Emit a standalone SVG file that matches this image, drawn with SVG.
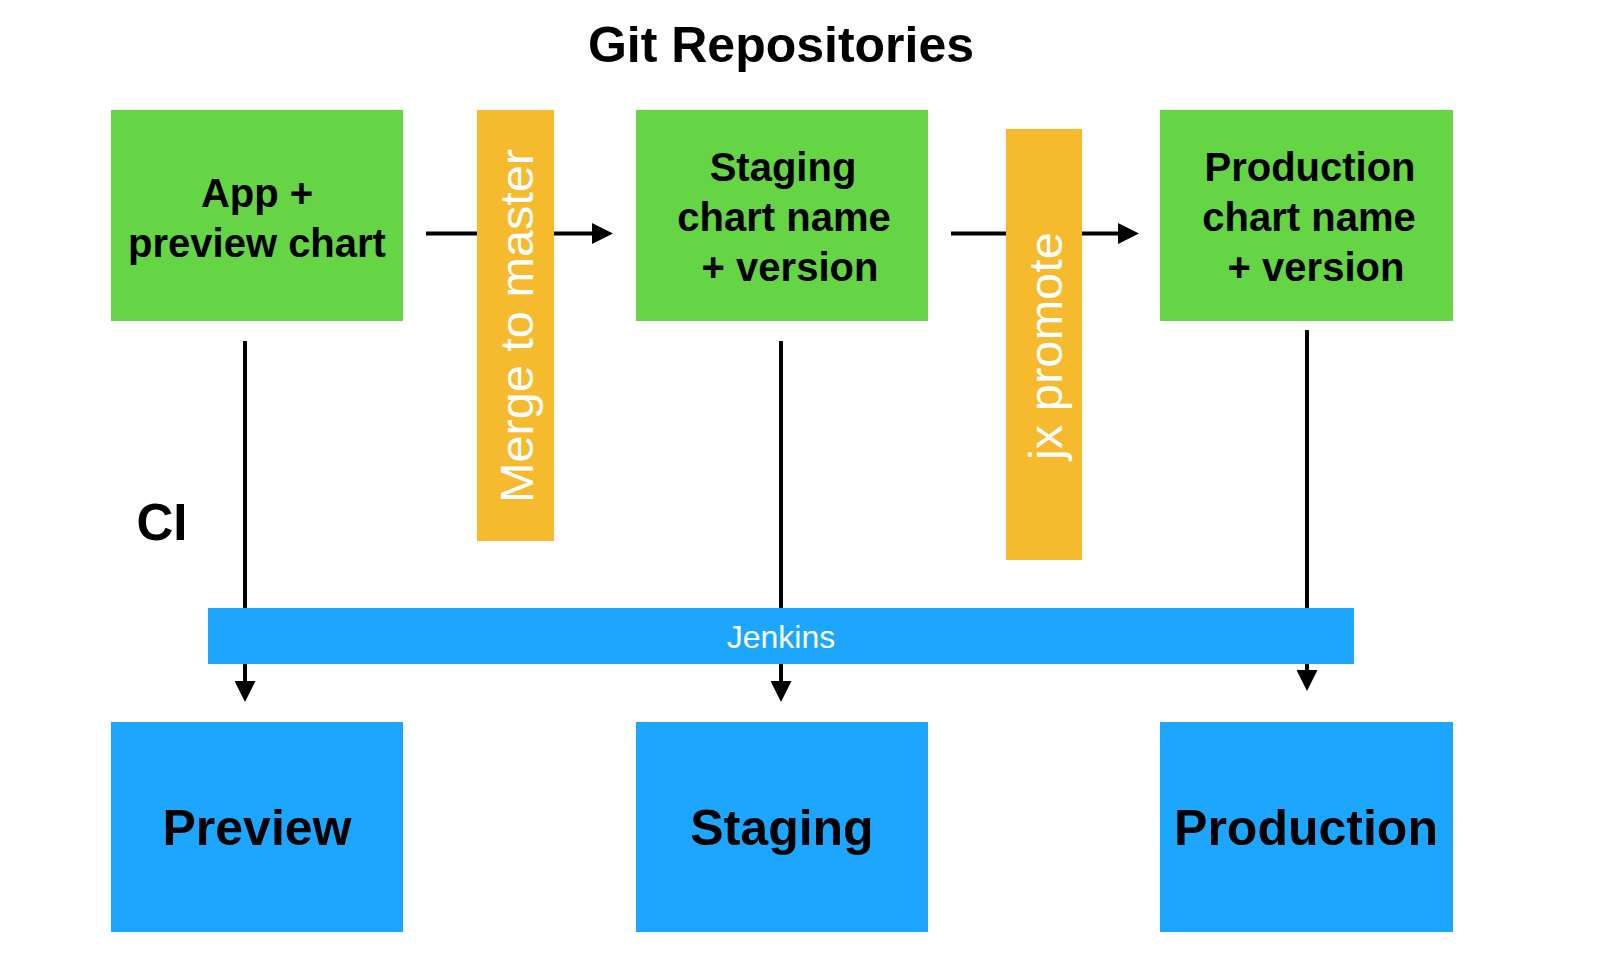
<svg xmlns="http://www.w3.org/2000/svg" width="1610" height="970" viewBox="0 0 1610 970">
<defs>
<style>
.bg{fill:#ffffff}
.green{fill:#65D545}
.blue{fill:#1DA6FE}
.orange{fill:#F6BA2E}
.lbl{font-family:"Liberation Sans",Arial,Helvetica,sans-serif;font-weight:bold;fill:#000;text-anchor:middle}
.box{font-size:40px}
.big{font-size:50px}
.vert{font-family:"Liberation Sans",Arial,Helvetica,sans-serif;font-size:46px;fill:#fff;text-anchor:middle}
.jenk{font-family:"Liberation Sans",Arial,Helvetica,sans-serif;font-size:32px;fill:#fff;text-anchor:middle}
.conn{stroke:#000;stroke-width:4;fill:none}
</style>
<marker id="ah" markerUnits="userSpaceOnUse" markerWidth="21" markerHeight="21" refX="0" refY="10.5" orient="auto" viewBox="0 0 21 21">
<path d="M0,0 L21,10.5 L0,21 Z" fill="#000"/>
</marker>
</defs>
<rect class="bg" x="0" y="0" width="1610" height="970"/>
<g id="title">
<text class="lbl big" x="781" y="62">Git Repositories</text>
</g>
<g id="ci-label">
<text class="lbl" x="162" y="540" style="font-size:51px">CI</text>
</g>
<g id="app-repo">
<rect class="green" x="111" y="110" width="292" height="211"/>
<text class="lbl box" x="257" y="207">App +</text>
<text class="lbl box" x="257" y="257">preview chart</text>
</g>
<g id="staging-repo">
<rect class="green" x="636" y="110" width="292" height="211"/>
<text class="lbl box" x="783" y="181">Staging</text>
<text class="lbl box" x="784" y="231">chart name</text>
<text class="lbl box" x="790" y="281">+ version</text>
</g>
<g id="production-repo">
<rect class="green" x="1160" y="110" width="293" height="211"/>
<text class="lbl box" x="1310" y="181">Production</text>
<text class="lbl box" x="1309" y="231">chart name</text>
<text class="lbl box" x="1316" y="281">+ version</text>
</g>
<g id="preview-env">
<rect class="blue" x="111" y="722" width="292" height="210"/>
<text class="lbl big" x="257" y="845">Preview</text>
</g>
<g id="staging-env">
<rect class="blue" x="636" y="722" width="292" height="210"/>
<text class="lbl big" x="782" y="845">Staging</text>
</g>
<g id="production-env">
<rect class="blue" x="1160" y="722" width="293" height="210"/>
<text class="lbl big" x="1306" y="845">Production</text>
</g>
<g id="connectors">
<line class="conn" x1="426" y1="233.5" x2="592" y2="233.5" marker-end="url(#ah)"/>
<line class="conn" x1="951" y1="233.5" x2="1118" y2="233.5" marker-end="url(#ah)"/>
<line class="conn" x1="245" y1="341" x2="245" y2="681" marker-end="url(#ah)"/>
<line class="conn" x1="781" y1="341" x2="781" y2="681" marker-end="url(#ah)"/>
<line class="conn" x1="1307" y1="330" x2="1307" y2="670" marker-end="url(#ah)"/>
</g>
<g id="merge-to-master">
<rect class="orange" x="477" y="110" width="77" height="431"/>
<text class="vert" transform="translate(533,326) rotate(-90)" textLength="354" lengthAdjust="spacingAndGlyphs">Merge to master</text>
</g>
<g id="jx-promote">
<rect class="orange" x="1006" y="129" width="76" height="431"/>
<text class="vert" transform="translate(1062,346) rotate(-90)" textLength="228" lengthAdjust="spacingAndGlyphs">jx promote</text>
</g>
<g id="jenkins">
<rect class="blue" x="208" y="608" width="1146" height="56"/>
<text class="jenk" x="781" y="647.5">Jenkins</text>
</g>
</svg>
